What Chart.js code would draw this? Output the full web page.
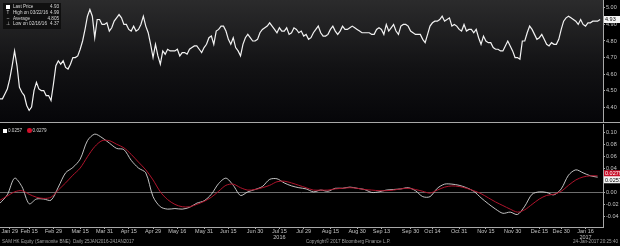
<!DOCTYPE html>
<html>
<head>
<meta charset="utf-8">
<script src="https://cdn.jsdelivr.net/npm/chart.js@4/dist/chart.umd.min.js"></script>
<style>
  body { margin: 0; background: #000; width: 620px; height: 246px; overflow: hidden; font-family: "Liberation Sans", Arial, sans-serif; }
  #wrap { position: relative; width: 620px; height: 246px; background: #000; }
  #topBox { position: absolute; left: 0; top: 0; }
  #botBox { position: absolute; left: 0; top: 124px; }
  .divider { position: absolute; left: 0; top: 122px; width: 620px; height: 1px; background: #a8a8a8; }
  #legendTop { position: absolute; left: 3px; top: 3px; width: 58px; height: 25px; background: rgba(12,12,12,0.85); color: #d8d8d8; font-size: 4.6px; line-height: 5.8px; padding-top: 1px; }
  #legendTop .row { position: relative; height: 5.8px; }
  #legendTop .mk { position: absolute; left: 2px; width: 6px; text-align: center; }
  #legendTop .sq { left: 3px; top: 0.5px; width: 4px; height: 4px; background: #fff; }
  #legendTop .lbl { position: absolute; left: 10px; }
  #legendTop .val { position: absolute; right: 2px; }
  #legendBot { position: absolute; left: 3px; top: 128px; color: #d8d8d8; font-size: 4.6px; line-height: 6px; white-space: nowrap; }
  #legendBot .sq { display: inline-block; width: 4px; height: 4px; background: #fff; margin-right: 1px; vertical-align: -0.5px; }
  #legendBot .dot { display: inline-block; width: 4.5px; height: 4.5px; border-radius: 50%; background: #d0102a; margin: 0 1px 0 5px; vertical-align: -0.5px; }
  .foot { position: absolute; top: 238.5px; color: #a0a0a0; font-size: 4.6px; white-space: nowrap; }
</style>
</head>
<body>
<div id="wrap">
  <div id="topBox"><canvas id="priceChart" width="620" height="122"></canvas></div>
  <div class="divider"></div>
  <div id="botBox"><canvas id="macdChart" width="620" height="122"></canvas></div>

  <div id="legendTop">
    <div class="row"><span class="mk sq"></span><span class="lbl">Last Price</span><span class="val">4.93</span></div>
    <div class="row"><span class="mk">T</span><span class="lbl">High on 03/22/16</span><span class="val">4.99</span></div>
    <div class="row"><span class="mk">–</span><span class="lbl">Average</span><span class="val">4.805</span></div>
    <div class="row"><span class="mk">⊥</span><span class="lbl">Low on 02/16/16</span><span class="val">4.37</span></div>
  </div>
  <div id="legendBot"><span class="sq"></span>0.0257<span class="dot"></span>0.0279</div>

  <div class="foot" style="left:2px;">SAM HK Equity (Samsonite BNE)&nbsp;&nbsp;Daily 25JAN2016-24JAN2017</div>
  <div class="foot" style="left:306px;">Copyright© 2017 Bloomberg Finance L.P.</div>
  <div class="foot" style="right:2px;">24-Jan-2017 20:25:40</div>
</div>

<script>
// trading calendar (weekdays minus HK market holidays)
const startDate = "2016-01-25";
const endDate = "2017-01-24";
const holidays = ["2016-02-08", "2016-02-09", "2016-02-10", "2016-03-25", "2016-03-28", "2016-04-04",
  "2016-05-02", "2016-06-09", "2016-07-01", "2016-09-16", "2016-10-10", "2016-12-26", "2016-12-27", "2017-01-02"];

// daily close, one per trading day
const price = [
  4.45, 4.45, 4.48, 4.51, 4.57, 4.65, 4.74, 4.65, 4.52, 4.49,
  4.47, 4.41, 4.38, 4.40, 4.50, 4.55, 4.51, 4.50, 4.50, 4.47,
  4.47, 4.44, 4.54, 4.65, 4.68, 4.66, 4.68, 4.64, 4.63, 4.66,
  4.70, 4.70, 4.71, 4.75, 4.80, 4.87, 4.95, 4.99, 4.95, 4.82,
  4.93, 4.93, 4.90, 4.90, 4.91, 4.86, 4.88, 4.92, 4.94, 4.96,
  4.94, 4.90, 4.90, 4.87, 4.86, 4.89, 4.86, 4.87, 4.90, 4.95,
  4.89, 4.85, 4.78, 4.70, 4.78, 4.71, 4.66, 4.74, 4.72, 4.75,
  4.74, 4.74, 4.74, 4.75, 4.71, 4.73, 4.73, 4.72, 4.75, 4.76,
  4.77, 4.77, 4.75, 4.73, 4.76, 4.78, 4.82, 4.83, 4.78, 4.86,
  4.87, 4.89, 4.89, 4.86, 4.81, 4.78, 4.82, 4.76, 4.74, 4.71,
  4.78, 4.82, 4.84, 4.82, 4.80, 4.80, 4.81, 4.85, 4.87, 4.88,
  4.89, 4.91, 4.89, 4.87, 4.85, 4.88, 4.86, 4.86, 4.88, 4.84,
  4.85, 4.88, 4.87, 4.85, 4.86, 4.83, 4.84, 4.81, 4.82, 4.85,
  4.87, 4.89, 4.85, 4.83, 4.83, 4.84, 4.87, 4.89, 4.86, 4.84,
  4.86, 4.89, 4.87, 4.87, 4.88, 4.89, 4.88, 4.87, 4.86, 4.85,
  4.85, 4.85, 4.85, 4.84, 4.84, 4.87, 4.88, 4.87, 4.84, 4.90,
  4.86, 4.88, 4.90, 4.86, 4.84, 4.89, 4.90, 4.90, 4.89, 4.86,
  4.85, 4.84, 4.84, 4.84, 4.81, 4.79, 4.84, 4.89, 4.91, 4.92,
  4.92, 4.93, 4.95, 4.92, 4.93, 4.94, 4.89, 4.90, 4.89, 4.87,
  4.86, 4.90, 4.86, 4.87, 4.87, 4.85, 4.87, 4.82, 4.78, 4.83,
  4.80, 4.79, 4.79, 4.76, 4.75, 4.75, 4.74, 4.74, 4.77, 4.80,
  4.77, 4.74, 4.70, 4.70, 4.69, 4.80, 4.80, 4.85, 4.89, 4.87,
  4.84, 4.81, 4.82, 4.84, 4.81, 4.78, 4.77, 4.79, 4.78, 4.78,
  4.81, 4.87, 4.92, 4.94, 4.95, 4.94, 4.93, 4.92, 4.90, 4.93,
  4.90, 4.89, 4.91, 4.91, 4.92, 4.92, 4.92, 4.93
];

// lower panel, one reading every 3rd trading day
const macdStep = 3;
const macdWhite = [
  -0.018, -0.004, 0.024, 0.010, -0.019, -0.011, -0.011, -0.013, 0.009, 0.033,
  0.042, 0.056, 0.087, 0.098, 0.092, 0.083, 0.074, 0.072, 0.054, 0.041,
  0.033, -0.007, -0.024, -0.028, -0.027, -0.028, -0.025, -0.018, -0.014, -0.003,
  0.015, 0.024, 0.012, -0.005, 0.001, 0.005, 0.010, 0.022, 0.023, 0.016,
  0.011, 0.008, 0.006, 0.001, 0.004, 0.002, 0.007, 0.007, 0.009, 0.007,
  0.005, 0.000, 0.001, 0.004, 0.005, 0.006, 0.008, 0.003, -0.007, -0.007,
  0.007, 0.014, 0.014, 0.012, 0.008, 0.002, -0.009, -0.019, -0.028, -0.035,
  -0.033, -0.037, -0.023, -0.003, 0.001, 0.000, -0.004, 0.006, 0.029, 0.038,
  0.033, 0.028, 0.0257
];
const macdRed = [
  -0.013, -0.006, 0.001, 0.003, -0.003, -0.008, -0.010, -0.008, 0.004, 0.016,
  0.029, 0.041, 0.060, 0.077, 0.087, 0.087, 0.081, 0.075, 0.064, 0.051,
  0.038, 0.021, 0.001, -0.012, -0.020, -0.024, -0.024, -0.020, -0.015, -0.008,
  0.002, 0.012, 0.014, 0.008, 0.004, 0.005, 0.008, 0.012, 0.018, 0.019,
  0.016, 0.012, 0.008, 0.004, 0.004, 0.004, 0.006, 0.007, 0.008, 0.007,
  0.005, 0.004, 0.003, 0.003, 0.004, 0.006, 0.007, 0.005, 0.002, -0.001,
  0.004, 0.009, 0.011, 0.010, 0.007, 0.003, -0.002, -0.009, -0.016, -0.022,
  -0.028, -0.033, -0.029, -0.020, -0.011, -0.005, -0.003, 0.002, 0.012, 0.021,
  0.026, 0.028, 0.0279
];

// axis ticks
const priceTicks = [4.40, 4.50, 4.60, 4.70, 4.80, 4.90, 5.00];
const macdTicks = [-0.04, -0.02, 0.00, 0.02, 0.04, 0.06, 0.08, 0.10];
const tickDates = ["2016-01-29", "2016-02-15", "2016-02-29", "2016-03-15", "2016-03-31", "2016-04-15",
  "2016-04-29", "2016-05-16", "2016-05-31", "2016-06-15", "2016-06-30", "2016-07-15", "2016-07-29",
  "2016-08-15", "2016-08-30", "2016-09-13", "2016-09-30", "2016-10-14", "2016-10-31", "2016-11-15",
  "2016-11-30", "2016-12-15", "2016-12-30", "2017-01-16"];
const tickLabels = ["Jan 29", "Feb 15", "Feb 29", "Mar 15", "Mar 31", "Apr 15", "Apr 29", "May 16",
  "May 31", "Jun 15", "Jun 30", ["Jul 15", "2016"], "Jul 29", "Aug 15", "Aug 30", "Sep 13", "Sep 30",
  "Oct 14", "Oct 31", "Nov 15", "Nov 30", "Dec 15", "Dec 30", ["Jan 16", "2017"]];

//build the trading day list
const tradingDays = [];
let d = new Date(startDate + "T00:00:00Z");
const last = new Date(endDate + "T00:00:00Z");
while (d <= last) {
  const iso = d.toISOString().slice(0, 10);
  const wd = d.getUTCDay();
  if (wd !== 0 && wd !== 6 && !holidays.includes(iso)) tradingDays.push(iso);
  d.setUTCDate(d.getUTCDate() + 1);
}
const xMax = tradingDays.length + 0.2;
const tickIndex = tickDates.map(t => tradingDays.indexOf(t));

const axisColor = "#a8a8a8";
const tickFont = { family: "Liberation Sans", size: 5.5, lineHeight: 1.1 };

//background of the price panel
const gradientBg = {
  id: "gradientBg",
  beforeDraw(chart) {
    const { ctx, chartArea } = chart;
    const g = ctx.createLinearGradient(0, chartArea.top, 0, chartArea.bottom);
    g.addColorStop(0, "#2b2b2c");
    g.addColorStop(0.55, "#121214");
    g.addColorStop(1, "#060609");
    ctx.save();
    ctx.fillStyle = g;
    ctx.fillRect(chartArea.left, chartArea.top, chartArea.right - chartArea.left, chartArea.bottom - chartArea.top);
    ctx.restore();
  }
};

//zero line in the lower panel
const zeroLine = {
  id: "zeroLine",
  beforeDatasetsDraw(chart) {
    const { ctx, chartArea, scales } = chart;
    const y = Math.round(scales.y.getPixelForValue(0)) + 0.5;
    ctx.save();
    ctx.strokeStyle = "#6e6e6e";
    ctx.lineWidth = 1;
    ctx.beginPath();
    ctx.moveTo(chartArea.left, y);
    ctx.lineTo(chartArea.right, y);
    ctx.stroke();
    ctx.restore();
  }
};

//little value boxes on the right axis
function drawTag(chart, value, text, bg, fg, shift) {
  const { ctx, chartArea, scales } = chart;
  const y = scales.y.getPixelForValue(value) + shift;
  ctx.save();
  ctx.fillStyle = bg;
  ctx.fillRect(chartArea.right + 1, y - 3.5, 16, 7);
  ctx.fillStyle = fg;
  ctx.font = "5.5px Liberation Sans";
  ctx.textBaseline = "middle";
  ctx.fillText(text, chartArea.right + 2, y + 0.3);
  ctx.restore();
}

const priceTag = {
  id: "priceTag",
  afterDraw(chart) {
    drawTag(chart, price[price.length - 1], "4.93", "#f4f4f4", "#000", 0);
  }
};
const macdTag = {
  id: "macdTag",
  afterDraw(chart) {
    drawTag(chart, macdRed[macdRed.length - 1], "0.0279", "#c8102a", "#fff", -2.2);
    drawTag(chart, macdWhite[macdWhite.length - 1], "0.0257", "#f4f4f4", "#000", 2.6);
  }
};

function rightAxis(min, max, ticks, digits) {
  return {
    position: "right",
    min: min,
    max: max,
    afterFit(s) { s.width = 17; s.paddingTop = 0; s.paddingBottom = 0; },
    afterBuildTicks(s) { s.ticks = ticks.map(v => ({ value: v })); },
    grid: { drawOnChartArea: false, tickLength: 2, color: axisColor },
    border: { color: axisColor },
    ticks: { color: "#c4c4c4", font: tickFont, padding: 1, callback: v => v.toFixed(digits) }
  };
}

new Chart(document.getElementById("priceChart"), {
  type: "line",
  data: {
    datasets: [{
      data: price.map((v, i) => ({ x: i, y: v })),
      borderColor: "#f2f2f2",
      borderWidth: 1.2,
      pointRadius: 0,
      tension: 0
    }]
  },
  options: {
    responsive: false,
    animation: false,
    events: [],
    layout: { padding: 0 },
    plugins: { legend: { display: false }, tooltip: { enabled: false } },
    scales: {
      x: { type: "linear", min: 0, max: xMax, display: false },
      y: rightAxis(4.31, 5.048, priceTicks, 2)
    }
  },
  plugins: [gradientBg, priceTag]
});

new Chart(document.getElementById("macdChart"), {
  type: "line",
  data: {
    datasets: [{
      data: macdRed.map((v, i) => ({ x: i * macdStep, y: v })),
      borderColor: "#b0142c",
      borderWidth: 1,
      pointRadius: 0,
      tension: 0.3
    }, {
      data: macdWhite.map((v, i) => ({ x: i * macdStep, y: v })),
      borderColor: "#d6d6d6",
      borderWidth: 0.9,
      pointRadius: 0,
      tension: 0.3
    }]
  },
  options: {
    responsive: false,
    animation: false,
    events: [],
    layout: { padding: 0 },
    plugins: { legend: { display: false }, tooltip: { enabled: false } },
    scales: {
      x: {
        type: "linear",
        min: 0,
        max: xMax,
        afterFit(s) { s.height = 19; s.paddingLeft = 0; s.paddingRight = 0; },
        afterBuildTicks(s) { s.ticks = tickIndex.map(v => ({ value: v })); },
        grid: { drawOnChartArea: false, tickLength: 2, color: axisColor },
        border: { color: axisColor },
        ticks: {
          color: "#c4c4c4",
          font: tickFont,
          padding: -1,
          maxRotation: 0,
          autoSkip: false,
          callback: (v) => tickLabels[tickIndex.indexOf(v)]
        }
      },
      y: rightAxis(-0.058, 0.115, macdTicks, 2)
    }
  },
  plugins: [zeroLine, macdTag]
});
</script>
</body>
</html>
